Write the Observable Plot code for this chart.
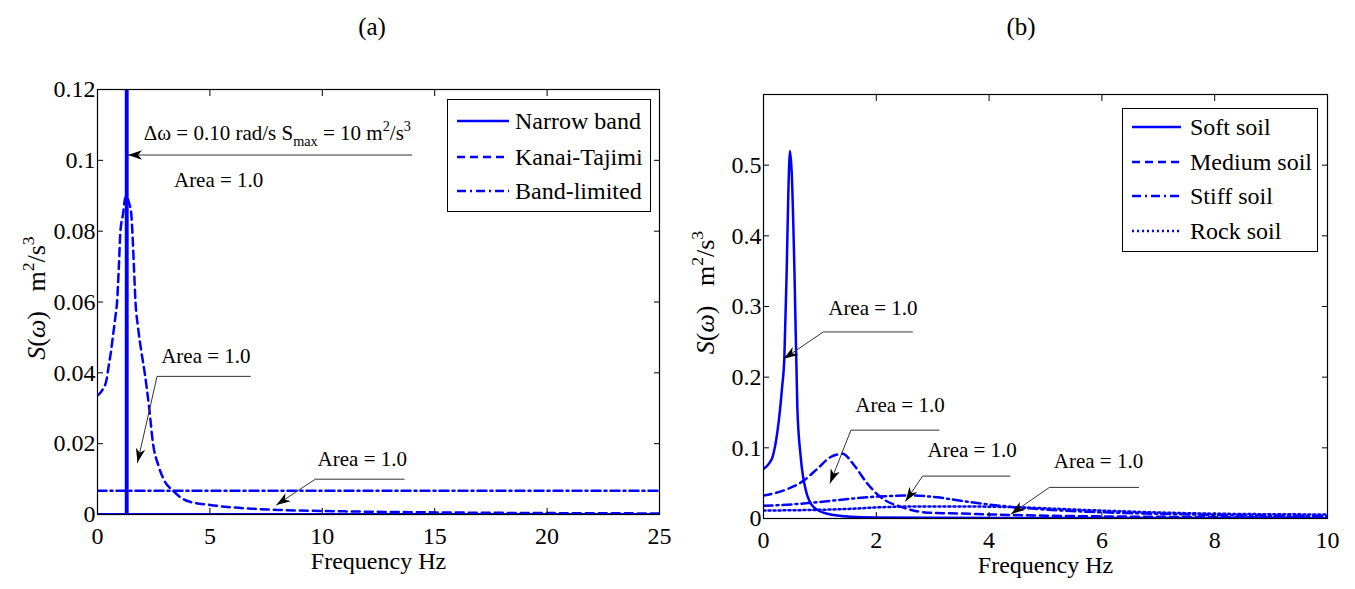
<!DOCTYPE html>
<html><head><meta charset="utf-8">
<script src="https://cdn.jsdelivr.net/npm/d3@7"></script>
<script src="https://cdn.jsdelivr.net/npm/@observablehq/plot@0.6"></script>
<style>
body{margin:0;background:#fff;}
#root{position:relative;width:1355px;height:589px;overflow:hidden;font-family:"Liberation Serif","DejaVu Serif",serif;color:#000;}
.panel{position:absolute;top:0;}
.title{position:absolute;font-size:25px;transform:translate(-50%,-50%);white-space:nowrap;}
.legend{position:absolute;border:1.5px solid #000;background:#fff;box-sizing:border-box;}
.row{position:absolute;left:0;height:30px;display:flex;align-items:center;font-size:24px;white-space:nowrap;transform:translateY(-50%);}
.row svg{display:block;}
text{white-space:pre;}
</style></head><body><div id="root"></div>
<script>
// ---------------- Panel (a) data ----------------
const aFreqTicks = [0, 5, 10, 15, 20, 25];
const aSTicks = [0, 0.02, 0.04, 0.06, 0.08, 0.1, 0.12];
const narrowFreq = [0, 1.28, 1.3, 1.32, 25];
const narrowS = [0, 0, 10, 0, 0];
const kanaiFreq = [0, 0.2, 0.4, 0.5, 0.6, 0.7, 0.8, 0.87, 0.95, 1.02, 1.14, 1.22, 1.3, 1.4, 1.5, 1.55, 1.62, 1.69, 1.8, 1.95, 2.1, 2.3, 2.47, 2.7, 2.94, 3.39, 4.0, 5, 6, 7, 8, 10, 12, 15, 20, 25];
const kanaiS = [0.0336, 0.035, 0.038, 0.042, 0.046, 0.051, 0.056, 0.06, 0.07, 0.08, 0.085, 0.089, 0.09, 0.088, 0.085, 0.08, 0.07, 0.06, 0.053, 0.046, 0.04, 0.03, 0.02, 0.014, 0.01, 0.0065, 0.0038, 0.0027, 0.002, 0.0016, 0.0013, 0.001, 0.0008, 0.0006, 0.0004, 0.0003];
const bandFreq = [0, 25];
const bandS = [0.0067, 0.0067];
const aLegend = ["Narrow band", "Kanai-Tajimi", "Band-limited"];
const aNoteText = ["Δω = 0.10 rad/s S_{max} = 10 m^{2}/s^{3}", "Area = 1.0", "Area = 1.0", "Area = 1.0"];
const aNoteFreq = [8.0, 5.39, 4.82, 11.78];
const aNoteS = [0.1076, 0.0943, 0.0447, 0.0155];
const aArrows = [
  [[13.98, 0.1015], [1.36, 0.1015]],
  [[6.8, 0.039], [2.65, 0.039], [1.78, 0.0147]],
  [[13.64, 0.00997], [9.69, 0.00997], [7.96, 0.0027]]
];

// ---------------- Panel (b) data ----------------
const bFreqTicks = [0, 2, 4, 6, 8, 10];
const bSTicks = [0, 0.1, 0.2, 0.3, 0.4, 0.5];
const softFreq = [0, 0.1, 0.16, 0.25, 0.33, 0.37, 0.41, 0.44, 0.47, 0.5, 0.55, 0.6, 0.66, 0.75, 0.89, 1.13, 1.55, 2, 3, 5, 10];
const softS = [0.07, 0.078, 0.087, 0.125, 0.186, 0.228, 0.346, 0.46, 0.52, 0.49, 0.346, 0.157, 0.087, 0.04, 0.016, 0.0067, 0.0025, 0.0015, 0.001, 0.0007, 0.0005];
const mediumFreq = [0, 0.37, 0.72, 0.95, 1.19, 1.4, 1.61, 1.84, 2.08, 2.44, 2.97, 3.5, 4.03, 5, 6, 8, 10];
const mediumS = [0.0325, 0.04, 0.054, 0.07, 0.087, 0.0915, 0.075, 0.0495, 0.03, 0.0165, 0.008, 0.007, 0.0057, 0.004, 0.003, 0.002, 0.0015];
const stiffFreq = [0, 0.5, 0.95, 1.55, 2.02, 2.6, 3.08, 3.5, 4.45, 5.63, 6.8, 8, 10];
const stiffS = [0.018, 0.02, 0.023, 0.028, 0.031, 0.0325, 0.03, 0.025, 0.016, 0.01, 0.007, 0.005, 0.0035];
const rockFreq = [0, 0.8, 1.55, 2.1, 2.8, 3.5, 4.45, 5.63, 6.8, 8, 10];
const rockS = [0.0113, 0.012, 0.0137, 0.016, 0.017, 0.017, 0.016, 0.0123, 0.009, 0.0068, 0.0057];
const bLegend = ["Soft soil", "Medium soil", "Stiff soil", "Rock soil"];
const bNoteText = ["Area = 1.0", "Area = 1.0", "Area = 1.0", "Area = 1.0"];
const bNoteFreq = [1.94, 2.42, 3.70, 5.94];
const bNoteS = [0.298, 0.16, 0.096, 0.081];
const bArrows = [
  [[2.64, 0.264], [1.06, 0.264], [0.36, 0.226]],
  [[3.11, 0.125], [1.55, 0.125], [1.18, 0.05]],
  [[4.37, 0.06], [2.82, 0.06], [2.52, 0.0245]],
  [[6.65, 0.044], [5.07, 0.044], [4.39, 0.0065]]
];

const xLabel = "Frequency Hz";
const yLabel = "*S*(*ω*)   m^{2}/s^{3}";
const panelTitles = ["(a)", "(b)"];

// ---------------- helpers ----------------
const BLUE = "#0000ff";
const FONT = '"Liberation Serif","DejaVu Serif",serif';
const DASH = {solid: null, dashed: "8,5", dashdot: "9,4,2,4", dotted: "2,3"};
const fmt = d => `${+d.toFixed(3)}`;
const rows = (fx, sy) => fx.map((f, i) => ({f, s: sy[i]}));
const arrowRows = paths => paths.flatMap((p, id) => p.map(([f, s]) => ({id, f, s})));
const noteRows = (t, fx, sy) => t.map((text, i) => ({text, f: fx[i], s: sy[i]}));

function filledArrow(color, context) {
  const ns = "http://www.w3.org/2000/svg";
  const m = context.document.createElementNS(ns, "marker");
  m.setAttribute("viewBox", "-14 -5 15 10");
  m.setAttribute("markerWidth", 15);
  m.setAttribute("markerHeight", 10);
  m.setAttribute("markerUnits", "userSpaceOnUse");
  m.setAttribute("refX", 0);
  m.setAttribute("refY", 0);
  m.setAttribute("orient", "auto");
  const p = context.document.createElementNS(ns, "path");
  p.setAttribute("d", "M0,0L-14,-4.8L-10,0L-14,4.8Z");
  p.setAttribute("fill", "#000");
  p.setAttribute("stroke", "none");
  m.appendChild(p);
  return m;
}

function panel({width, margins, xDomain, yDomain, xTicks, yTicks, series, notes, arrows, yDx, yDy}) {
  const [mt, mr, mb, ml] = margins;
  return Plot.plot({
    width, height: 589,
    marginTop: mt, marginRight: mr, marginBottom: mb, marginLeft: ml,
    x: {domain: xDomain}, y: {domain: yDomain},
    style: {fontFamily: FONT, fontSize: "24px", background: "transparent", color: "#000", overflow: "visible"},
    marks: [
      ...series.map(sr => Plot.line(sr.data, {x: "f", y: "s", stroke: BLUE, strokeWidth: sr.w || 2.5, strokeDasharray: DASH[sr.dash], curve: sr.curve || "linear", clip: true})),
      Plot.frame({stroke: "#000", strokeWidth: 1.2}),
      Plot.axisX({ticks: xTicks, tickSize: -6, tickPadding: 18, tickFormat: fmt, label: null}),
      Plot.axisX({anchor: "top", ticks: xTicks, tickSize: -6, tickFormat: () => "", label: null}),
      Plot.axisY({ticks: yTicks, tickSize: -6, tickPadding: 8, tickFormat: fmt, label: null}),
      Plot.axisY({anchor: "right", ticks: yTicks, tickSize: -6, tickFormat: () => "", label: null}),
      Plot.line(arrows, {x: "f", y: "s", z: "id", stroke: "#333", strokeWidth: 1, markerEnd: filledArrow}),
      Plot.text(notes, {x: "f", y: "s", text: "text", fontSize: 21, fill: "#000"}),
      Plot.text([xLabel], {text: d => d, frameAnchor: "bottom", dy: 54, fontSize: 24, fill: "#000"}),
      Plot.text([yLabel], {text: d => d, frameAnchor: "left", textAnchor: "middle", rotate: -90, dx: yDx, dy: yDy, fontSize: 26, fill: "#000"})
    ]
  });
}

function richify(svg) {
  d3.select(svg).selectAll("text").each(function () {
    const t = this.textContent;
    if (!/[\^_]\{|\*/.test(t)) return;
    const fs = parseFloat(getComputedStyle(this).fontSize) || 24;
    const parts = t.split(/(\^\{[^}]*\}|_\{[^}]*\}|\*[^*]*\*)/).filter(s => s !== "");
    while (this.firstChild) this.removeChild(this.firstChild);
    let off = 0;
    for (const p of parts) {
      const ts = document.createElementNS("http://www.w3.org/2000/svg", "tspan");
      let target = 0, txt = p;
      if (p.startsWith("^{")) { target = -0.42 * fs; txt = p.slice(2, -1); ts.setAttribute("font-size", fs * 0.68); }
      else if (p.startsWith("_{")) { target = 0.28 * fs; txt = p.slice(2, -1); ts.setAttribute("font-size", fs * 0.68); }
      else if (p.startsWith("*")) { txt = p.slice(1, -1); ts.setAttribute("font-style", "italic"); }
      if (target !== off) ts.setAttribute("dy", target - off);
      off = target;
      ts.textContent = txt;
      this.appendChild(ts);
    }
  });
}

// ---------------- build ----------------
const root = document.getElementById("root");

const chartA = panel({
  width: 680, margins: [89, 21, 75, 97],
  xDomain: [0, 25], yDomain: [0, 0.12], xTicks: aFreqTicks, yTicks: aSTicks,
  series: [
    {data: rows(kanaiFreq, kanaiS), dash: "dashed", curve: "monotone-x"},
    {data: rows(bandFreq, bandS), dash: "dashdot"},
    {data: rows(narrowFreq, narrowS), dash: "solid", w: 3}
  ],
  notes: noteRows(aNoteText, aNoteFreq, aNoteS),
  arrows: arrowRows(aArrows), yDx: -61, yDy: -4
});
const chartB = panel({
  width: 675, margins: [94, 28, 71, 83],
  xDomain: [0, 10], yDomain: [0, 0.6], xTicks: bFreqTicks, yTicks: bSTicks,
  series: [
    {data: rows(rockFreq, rockS), dash: "dotted", curve: "monotone-x"},
    {data: rows(stiffFreq, stiffS), dash: "dashdot", curve: "monotone-x"},
    {data: rows(mediumFreq, mediumS), dash: "dashed", curve: "monotone-x"},
    {data: rows(softFreq, softS), dash: "solid", curve: "monotone-x"}
  ],
  notes: noteRows(bNoteText, bNoteFreq, bNoteS),
  arrows: arrowRows(bArrows), yDx: -58, yDy: -14
});

[[chartA, 0], [chartB, 680]].forEach(([c, left]) => {
  c.classList.add("panel");
  c.style.left = left + "px";
  root.appendChild(c);
  richify(c);
});

// titles
[[panelTitles[0], 372, 27], [panelTitles[1], 1021, 27]].forEach(([t, x, y]) => {
  const d = document.createElement("div");
  d.className = "title"; d.textContent = t;
  d.style.left = x + "px"; d.style.top = y + "px";
  root.appendChild(d);
});

// legends
function legend(labels, dashes, box, rowYs, swatchLeft, swatchLen, textGap) {
  const lg = document.createElement("div");
  lg.className = "legend";
  Object.assign(lg.style, {left: box[0] + "px", top: box[1] + "px", width: box[2] + "px", height: box[3] + "px"});
  labels.forEach((lab, i) => {
    const r = document.createElement("div");
    r.className = "row";
    r.style.top = rowYs[i] + "px";
    r.style.left = swatchLeft + "px";
    const sw = d3.create("svg").attr("width", swatchLen).attr("height", 10);
    sw.append("line").attr("x1", 0).attr("x2", swatchLen).attr("y1", 5).attr("y2", 5)
      .attr("stroke", BLUE).attr("stroke-width", 2.6).attr("stroke-dasharray", DASH[dashes[i]]);
    r.appendChild(sw.node());
    const s = document.createElement("span");
    s.textContent = lab; s.style.marginLeft = textGap + "px";
    r.appendChild(s);
    lg.appendChild(r);
  });
  root.appendChild(lg);
}
legend(aLegend, ["solid", "dashed", "dashdot"], [447, 99, 204, 113], [21, 57, 91], 9, 52, 6);
legend(bLegend, ["solid", "dashed", "dashdot", "dotted"], [1122, 108, 196, 144], [18, 53, 87, 122], 9, 49, 9);
</script></body></html>
